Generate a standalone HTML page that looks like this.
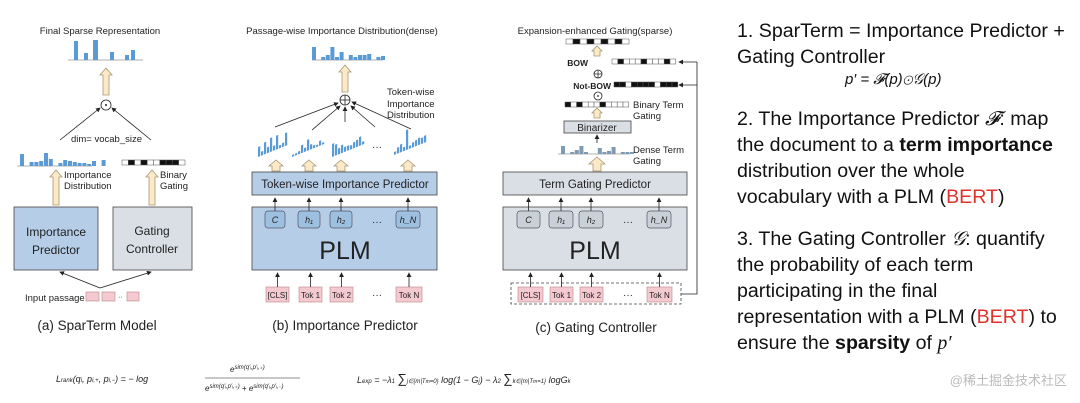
<!DOCTYPE html>
<html><head><meta charset="utf-8"><style>
html,body{margin:0;padding:0;background:#fff;}
svg{display:block;}
text{font-family:"Liberation Sans",sans-serif;fill:#222;}
.r{font-size:19.6px;fill:#111;}
</style></head><body>
<svg id="s" width="1080" height="403" viewBox="0 0 1080 403" xmlns="http://www.w3.org/2000/svg">
<defs>
<marker id="ah" markerWidth="6" markerHeight="6" refX="5" refY="3" orient="auto"><path d="M0,0 L6,3 L0,6 z" fill="#222"/></marker>
</defs>
<!-- Panel a -->
<text x="100" y="34" font-size="9.5" text-anchor="middle">Final Sparse Representation</text>
<line x1="68" y1="60" x2="143" y2="60" stroke="#999" stroke-width="0.7"/>
<g fill="#5b9bd5"><rect x="74" y="41" width="4" height="19"/><rect x="84" y="53" width="4" height="7"/><rect x="93" y="40" width="5" height="20"/><rect x="110" y="52" width="4" height="8"/><rect x="125" y="55" width="4" height="5"/><rect x="131" y="50" width="4" height="10"/></g>
<polygon points="103,95 103,75 100,75 106,68 112,75 109,75 109,95" fill="#fbe9c8" stroke="#a89775" stroke-width="0.8"/>
<circle cx="106" cy="105" r="5" fill="#fff" stroke="#222" stroke-width="0.8"/><circle cx="106" cy="105" r="1" fill="#222"/>
<line x1="60" y1="140" x2="100" y2="108" stroke="#222" stroke-width="0.8" marker-end="url(#ah)"/>
<line x1="151" y1="140" x2="112" y2="108" stroke="#222" stroke-width="0.8" marker-end="url(#ah)"/>
<text x="71" y="142" font-size="9.5">dim= vocab_size</text>
<line x1="17" y1="166" x2="92" y2="166" stroke="#999" stroke-width="0.7"/>
<polygon points="53,205 53,177 50,177 56,170 62,177 59,177 59,205" fill="#fbe9c8" stroke="#a89775" stroke-width="0.8"/>
<polygon points="149,205 149,177 146,177 152,170 158,177 155,177 155,205" fill="#fbe9c8" stroke="#a89775" stroke-width="0.8"/>
<text x="64" y="178" font-size="9.5">Importance</text><text x="64" y="189" font-size="9.5">Distribution</text>
<text x="160" y="178" font-size="9.5">Binary</text><text x="160" y="189" font-size="9.5">Gating</text>
<rect x="14" y="207" width="84" height="63" fill="#b5cde6" stroke="#444" stroke-width="0.8"/>
<rect x="113" y="207" width="79" height="63" fill="#dadfe5" stroke="#444" stroke-width="0.8"/>
<text x="56" y="236" font-size="12" text-anchor="middle">Importance</text><text x="56" y="254" font-size="12" text-anchor="middle">Predictor</text>
<text x="152" y="235" font-size="12" text-anchor="middle">Gating</text><text x="152" y="253" font-size="12" text-anchor="middle">Controller</text>
<line x1="100" y1="288" x2="60" y2="272" stroke="#222" stroke-width="0.8" marker-end="url(#ah)"/>
<line x1="100" y1="288" x2="151" y2="272" stroke="#222" stroke-width="0.8" marker-end="url(#ah)"/>
<text x="25" y="301" font-size="9.5">Input passage</text>
<rect x="86" y="292" width="13" height="9" fill="#f4c9d0" stroke="#b88" stroke-width="0.6"/>
<rect x="102" y="292" width="13" height="9" fill="#f4c9d0" stroke="#b88" stroke-width="0.6"/>
<text x="118" y="299" font-size="7">··</text>
<rect x="127" y="292" width="12" height="9" fill="#f4c9d0" stroke="#b88" stroke-width="0.6"/>
<text x="97" y="330" font-size="13.5" text-anchor="middle">(a) SparTerm Model</text>
<!-- Panel b -->
<text x="342" y="34" font-size="9.5" text-anchor="middle">Passage-wise  Importance  Distribution(dense)</text>
<line x1="312" y1="60" x2="383" y2="60" stroke="#999" stroke-width="0.7"/>
<polygon points="342,92 342,72 339,72 345,65 351,72 348,72 348,92" fill="#fbe9c8" stroke="#a89775" stroke-width="0.8"/>
<circle cx="345" cy="100" r="5" fill="#fff" stroke="#222" stroke-width="0.8"/>
<line x1="340" y1="100" x2="350" y2="100" stroke="#222" stroke-width="0.8"/><line x1="345" y1="95" x2="345" y2="105" stroke="#222" stroke-width="0.8"/>
<line x1="275" y1="127" x2="338" y2="103" stroke="#222" stroke-width="0.8" marker-end="url(#ah)"/>
<line x1="312" y1="130" x2="340" y2="106" stroke="#222" stroke-width="0.8" marker-end="url(#ah)"/>
<line x1="345" y1="122" x2="345" y2="107" stroke="#222" stroke-width="0.8" marker-end="url(#ah)"/>
<line x1="375" y1="127" x2="351" y2="106" stroke="#222" stroke-width="0.8" marker-end="url(#ah)"/>
<line x1="411" y1="129" x2="352" y2="102" stroke="#222" stroke-width="0.8" marker-end="url(#ah)"/>
<text x="387" y="95" font-size="9.5">Token-wise</text><text x="387" y="107" font-size="9.5">Importance</text><text x="387" y="118" font-size="9.5">Distribution</text>
<text x="372" y="150" font-size="10">···</text>
<rect x="252" y="172" width="185" height="23" fill="#b5cde6" stroke="#444" stroke-width="0.8"/>
<text x="345" y="188" font-size="11.5" text-anchor="middle">Token-wise Importance Predictor</text>
<rect x="252" y="207" width="185" height="63" fill="#b5cde6" stroke="#444" stroke-width="0.8"/>
<text x="345" y="259" font-size="25" text-anchor="middle">PLM</text>
<text x="372" y="225" font-size="10">···</text><text x="372" y="298" font-size="10">···</text>
<!-- Panel c -->
<text x="595" y="34" font-size="9.5" text-anchor="middle">Expansion-enhanced Gating(sparse)</text>
<polygon points="594,56 594,51 592,51 597,46 602,51 600,51 600,56" fill="#fbe9c8" stroke="#a89775" stroke-width="0.8"/>
<text x="588" y="66" font-size="8.5" font-weight="bold" text-anchor="end">BOW</text>
<circle cx="598" cy="74" r="4" fill="#fff" stroke="#222" stroke-width="0.8"/>
<line x1="594" y1="74" x2="602" y2="74" stroke="#222" stroke-width="0.7"/><line x1="598" y1="70" x2="598" y2="78" stroke="#222" stroke-width="0.7"/>
<text x="611" y="89" font-size="8.5" font-weight="bold" text-anchor="end">Not-BOW</text>
<circle cx="598" cy="96" r="4" fill="#fff" stroke="#222" stroke-width="0.8"/><circle cx="598" cy="96" r="0.9" fill="#222"/>
<text x="633" y="108" font-size="9.5">Binary Term</text><text x="633" y="119" font-size="9.5">Gating</text>
<polygon points="594,118 594,113 592,113 597,108 602,113 600,113 600,118" fill="#fbe9c8" stroke="#a89775" stroke-width="0.8"/>
<rect x="564" y="121" width="67" height="12" fill="#dadfe5" stroke="#444" stroke-width="0.8"/>
<text x="597" y="131" font-size="10" text-anchor="middle">Binarizer</text>
<line x1="597" y1="143" x2="597" y2="135" stroke="#222" stroke-width="0.8" marker-end="url(#ah)"/>
<line x1="558" y1="154" x2="630" y2="154" stroke="#999" stroke-width="0.7"/>
<text x="633" y="153" font-size="9.5">Dense Term</text><text x="633" y="164" font-size="9.5">Gating</text>
<polygon points="593,171 593,164 589,164 597,157 605,164 601,164 601,171" fill="#fbe9c8" stroke="#a89775" stroke-width="0.8"/>
<rect x="503" y="172" width="184" height="23" fill="#dadfe5" stroke="#444" stroke-width="0.8"/>
<text x="595" y="188" font-size="11.5" text-anchor="middle">Term Gating Predictor</text>
<rect x="503" y="207" width="184" height="63" fill="#dadfe5" stroke="#444" stroke-width="0.8"/>
<text x="595" y="259" font-size="25" text-anchor="middle">PLM</text>
<text x="623" y="225" font-size="10">···</text><text x="623" y="298" font-size="10">···</text>
<rect x="511" y="283" width="170" height="21" fill="none" stroke="#444" stroke-width="0.8" stroke-dasharray="3,2"/>
<polyline points="681,294 697,294 697,62" fill="none" stroke="#222" stroke-width="0.8"/>
<line x1="697" y1="62" x2="679" y2="62" stroke="#222" stroke-width="0.8" marker-end="url(#ah)"/>
<line x1="697" y1="85" x2="679" y2="85" stroke="#222" stroke-width="0.8" marker-end="url(#ah)"/>
<text x="596" y="332" font-size="13.5" text-anchor="middle">(c) Gating Controller</text>
<text x="345" y="330" font-size="13.5" text-anchor="middle">(b) Importance Predictor</text>
<g id="dyn"></g>
<!-- formulas -->
<text x="56" y="382" font-size="9" font-style="italic" font-family="Liberation Serif">L<tspan font-size="6">rank</tspan>(q<tspan font-size="6">i</tspan>, p<tspan font-size="6">i,+</tspan>, p<tspan font-size="6">i,−</tspan>) = − log</text>
<text x="230" y="372" font-size="8" font-style="italic" font-family="Liberation Serif">e<tspan font-size="6" dy="-3">sim(q′ᵢ,p′ᵢ,₊)</tspan></text>
<line x1="205" y1="378" x2="300" y2="378" stroke="#222" stroke-width="0.6"/>
<text x="205" y="391" font-size="8" font-style="italic" font-family="Liberation Serif">e<tspan font-size="6" dy="-3">sim(q′ᵢ,p′ᵢ,₊)</tspan><tspan dy="3"> + e</tspan><tspan font-size="6" dy="-3">sim(q′ᵢ,p′ᵢ,₋)</tspan></text>
<text x="357" y="383" font-size="9" font-style="italic" font-family="Liberation Serif">L<tspan font-size="6">exp</tspan> = −λ<tspan font-size="6">1</tspan> <tspan font-size="13" font-style="normal">∑</tspan><tspan font-size="6">j∈{m|T<tspan font-size="5">m</tspan>=0}</tspan> log(1 − G<tspan font-size="6">j</tspan>) − λ<tspan font-size="6">2</tspan> <tspan font-size="13" font-style="normal">∑</tspan><tspan font-size="6">k∈{m|T<tspan font-size="5">m</tspan>=1}</tspan> logG<tspan font-size="6">k</tspan></text>
<text x="1067" y="385" font-size="13" text-anchor="end" style="fill:#bbb" font-family="Liberation Sans, Noto Sans CJK SC, sans-serif">@稀土掘金技术社区</text>
<!-- right text -->
<text class="r" x="737" y="37">1. SparTerm = Importance Predictor +</text>
<text class="r" x="737" y="63">Gating Controller</text>
<text x="845" y="84" font-size="15" font-style="italic" font-family="Liberation Serif" style="fill:#111">p′ = 𝓕(p)⊙𝒢(p)</text>
<text class="r" x="737" y="125">2. The Importance Predictor <tspan font-style="italic" font-family="Liberation Serif">𝓕</tspan>: map</text>
<text class="r" x="737" y="151">the document to a <tspan font-weight="bold">term importance</tspan></text>
<text class="r" x="737" y="177">distribution over the whole</text>
<text class="r" x="737" y="203">vocabulary with a PLM (<tspan style="fill:#e0322b">BERT</tspan>)</text>
<text class="r" x="737" y="245">3. The Gating Controller <tspan font-style="italic" font-family="Liberation Serif">𝒢</tspan>: quantify</text>
<text class="r" x="737" y="271">the probability of each term</text>
<text class="r" x="737" y="297">participating in the final</text>
<text class="r" x="737" y="323">representation with a PLM (<tspan style="fill:#e0322b">BERT</tspan>) to</text>
<text class="r" x="737" y="349">ensure the <tspan font-weight="bold">sparsity</tspan> of <tspan font-style="italic" font-family="Liberation Serif">p′</tspan></text>
</svg>
<script>
var NS="http://www.w3.org/2000/svg",D=document.getElementById("dyn");
function el(t,a,p){var e=document.createElementNS(NS,t);for(var k in a)e.setAttribute(k,a[k]);if(a.txt){e.textContent=a.txt;e.removeAttribute("txt");}(p||D).appendChild(e);return e;}
function bars(x0,base,w,gap,hs,col,p){hs.forEach(function(h,i){if(h>0)el("rect",{x:x0+i*(w+gap),y:base-h,width:w,height:h,fill:col},p);});}
var B="#5b9bd5";
bars(20,166,4,0.8,[12,0,4,4,5,13,7,0,3,6,5,4,3,3,2,5,0,6],B);
bars(312,60,4,0.6,[13,0,3,5,13,3,8,0,5,3,5,5,6,0,3,4],B);
bars(561,154,4,0.6,[8,0,2,4,8,2,0,0,6,2,3,7,0,2,2,2],"#7f9ab3");
function strip(x,y,n,cw,pat,h){for(var i=0;i<n;i++)el("rect",{x:x+i*cw,y:y,width:cw,height:h||5,fill:pat[i]=="1"?"#111":"#fff",stroke:"#555","stroke-width":0.5});}
strip(122,160,10,6.3,"0101001110");
strip(566,39,9,7,"010101010");
strip(612,59,11,5.8,"01000100010");
strip(614,82,11,5.8,"11011110111");
strip(565,102,11,5.8,"10100010000");
function skew(x,base,hs){var g=el("g",{transform:"translate("+x+","+base+") skewY(-22)"});hs.forEach(function(h,i){el("rect",{x:i*3,y:-h,width:2.2,height:h,fill:B},g);});}
skew(258,157,[10,4,12,6,14,5,14,3,4,13]);
skew(292,157,[2,2,3,8,4,11,5,3,2,5,2]);
skew(332,157,[13,11,6,8,5,5,4,6,7,9,3]);
skew(394,155,[3,6,8,4,20,3,5,6,7,6,7]);
[276,309,341,408].forEach(function(c){el("polygon",{points:(c-4)+",171 "+(c-4)+",166 "+(c-7)+",166 "+c+",160 "+(c+7)+",166 "+(c+4)+",166 "+(c+4)+",171",fill:"#fbe9c8",stroke:"#a89775","stroke-width":0.8});});
function tokrow(hx,tx,labels,fill){
 hx.forEach(function(p,i){el("rect",{x:p[0],y:211,width:p[1],height:17,rx:3,fill:fill,stroke:"#556","stroke-width":0.7});
  el("text",{x:p[0]+p[1]/2,y:223,"font-size":9,"font-style":"italic","font-family":"Liberation Serif","text-anchor":"middle",txt:["C","h₁","h₂","h_N"][i]});
  el("line",{x1:p[0]+p[1]/2,y1:211,x2:p[0]+p[1]/2,y2:198,stroke:"#222","stroke-width":0.8,"marker-end":"url(#ah)"});});
 tx.forEach(function(p,i){el("rect",{x:p[0],y:287,width:p[1],height:15,fill:"#f4c9d0",stroke:"#b88","stroke-width":0.6});
  el("text",{x:p[0]+p[1]/2,y:298,"font-size":8,"text-anchor":"middle",txt:labels[i]});
  el("line",{x1:p[0]+p[1]/2,y1:287,x2:p[0]+p[1]/2,y2:273,stroke:"#222","stroke-width":0.8,"marker-end":"url(#ah)"});});
}
tokrow([[265,20],[298,22],[330,22],[396,24]],[[266,23],[299,23],[330,23],[396,26]],["[CLS]","Tok 1","Tok 2","Tok N"],"#9dbfe0");
tokrow([[517,23],[549,24],[579,24],[647,24]],[[518,25],[550,23],[580,23],[647,25]],["[CLS]","Tok 1","Tok 2","Tok N"],"#c9d0d8");
</script>
</body></html>
